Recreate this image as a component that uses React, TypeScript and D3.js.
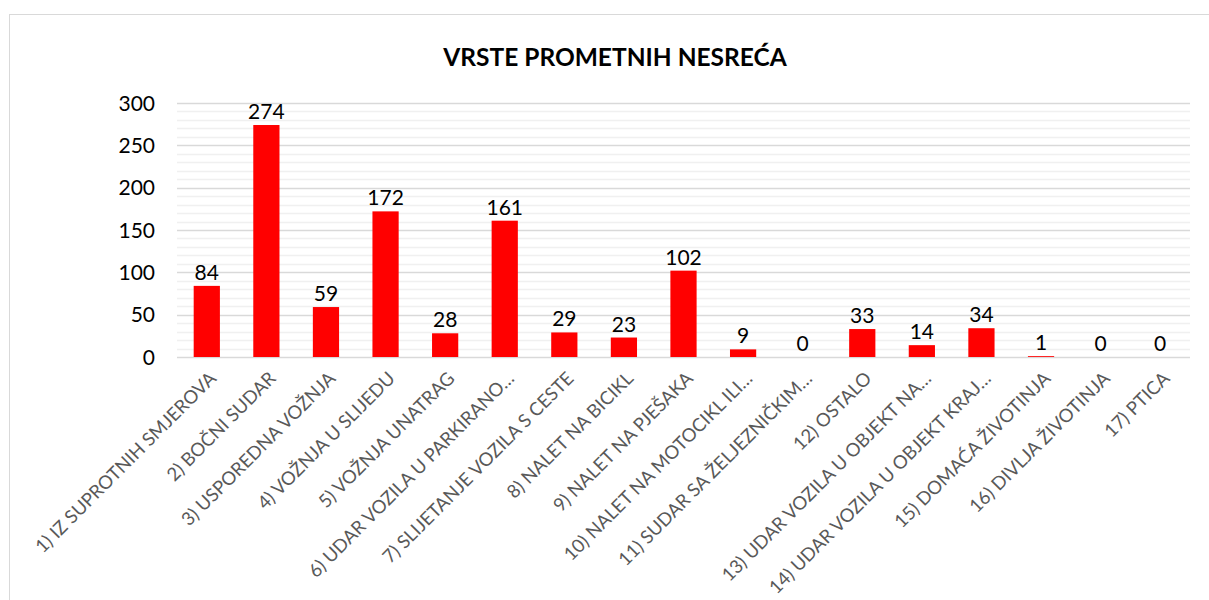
import React, { useEffect, useRef } from 'react';
import * as d3 from 'd3';

const categories = [
  '1) IZ SUPROTNIH SMJEROVA',
  '2) BOČNI SUDAR',
  '3) USPOREDNA VOŽNJA',
  '4) VOŽNJA U SLIJEDU',
  '5) VOŽNJA UNATRAG',
  '6) UDAR VOZILA U PARKIRANO…',
  '7) SLIJETANJE VOZILA S CESTE',
  '8) NALET NA BICIKL',
  '9) NALET NA PJEŠAKA',
  '10) NALET NA MOTOCIKL ILI…',
  '11) SUDAR SA ŽELJEZNIČKIM…',
  '12) OSTALO',
  '13) UDAR VOZILA U OBJEKT NA…',
  '14) UDAR VOZILA U OBJEKT KRAJ…',
  '15) DOMAĆA ŽIVOTINJA',
  '16) DIVLJA ŽIVOTINJA',
  '17) PTICA',
];
const values = [84, 274, 59, 172, 28, 161, 29, 23, 102, 9, 0, 33, 14, 34, 1, 0, 0];
const yTicks = [0, 50, 100, 150, 200, 250, 300];
const title = 'VRSTE PROMETNIH NESREĆA';

const W = 1209;
const H = 600;
const font = 'Lato, "Open Sans", sans-serif';

export default function App() {
  const ref = useRef<SVGSVGElement>(null);

  useEffect(() => {
    const svg = d3.select(ref.current);
    svg.selectAll('*').remove();

    const left = 177, right = 1190, top = 103, bottom = 357;

    const x = d3.scaleBand<string>().domain(categories).range([left, right]).paddingInner(0.56).paddingOuter(0.28);
    const y = d3.scaleLinear().domain([0, 300]).range([bottom, top]);

    // chart border
    svg.append('rect')
      .attr('x', 9.5).attr('y', 14.5)
      .attr('width', W).attr('height', H)
      .attr('fill', '#fff').attr('stroke', '#d9d9d9');

    // minor grid
    svg.append('g').selectAll('line')
      .data(d3.range(0, 301, 10).filter(v => v % 50 !== 0))
      .join('line')
      .attr('x1', left).attr('x2', right)
      .attr('y1', d => Math.round(y(d)) + 0.5).attr('y2', d => Math.round(y(d)) + 0.5)
      .attr('stroke', '#f0f0f0').attr('stroke-width', 1.5);

    // major grid
    svg.append('g').selectAll('line')
      .data(yTicks)
      .join('line')
      .attr('x1', left).attr('x2', right)
      .attr('y1', d => Math.round(y(d)) + 0.5).attr('y2', d => Math.round(y(d)) + 0.5)
      .attr('stroke', '#d9d9d9').attr('stroke-width', 1.5);

    // y labels
    svg.append('g').selectAll('text')
      .data(yTicks)
      .join('text')
      .attr('x', 155).attr('y', d => y(d))
      .attr('dy', '0.36em')
      .attr('text-anchor', 'end')
      .style('font-family', font).style('font-size', '21px').attr('fill', '#000')
      .text(d => d);

    // bars
    svg.append('g').selectAll('rect')
      .data(values)
      .join('rect')
      .attr('x', (d, i) => x(categories[i])!)
      .attr('width', x.bandwidth())
      .attr('y', d => y(d))
      .attr('height', d => y(0) - y(d))
      .attr('fill', '#ff0000');

    // data labels
    svg.append('g').selectAll('text')
      .data(values)
      .join('text')
      .attr('x', (d, i) => x(categories[i])! + x.bandwidth() / 2)
      .attr('y', d => y(d) - 6)
      .attr('text-anchor', 'middle')
      .style('font-family', font).style('font-size', '21px').attr('fill', '#000')
      .text(d => d);

    // x labels
    svg.append('g').selectAll('text')
      .data(categories)
      .join('text')
      .attr('transform', d => `translate(${x(d)! + x.bandwidth() / 2 + 6},${bottom + 18}) rotate(-45)`)
      .attr('text-anchor', 'end')
      .attr('dy', '0.35em')
      .style('font-family', font).style('font-size', '18.5px').attr('fill', '#595959')
      .text(d => d);

    // title
    svg.append('text')
      .attr('x', 615).attr('y', 66)
      .attr('text-anchor', 'middle')
      .style('font-family', font).style('font-size', '24.5px').style('font-weight', 'bold')
      .attr('fill', '#000')
      .text(title);
  }, []);

  return (
    <svg ref={ref} width={W} height={H} style={{ position: 'absolute', left: 0, top: 0, background: '#fff' }} />
  );
}
